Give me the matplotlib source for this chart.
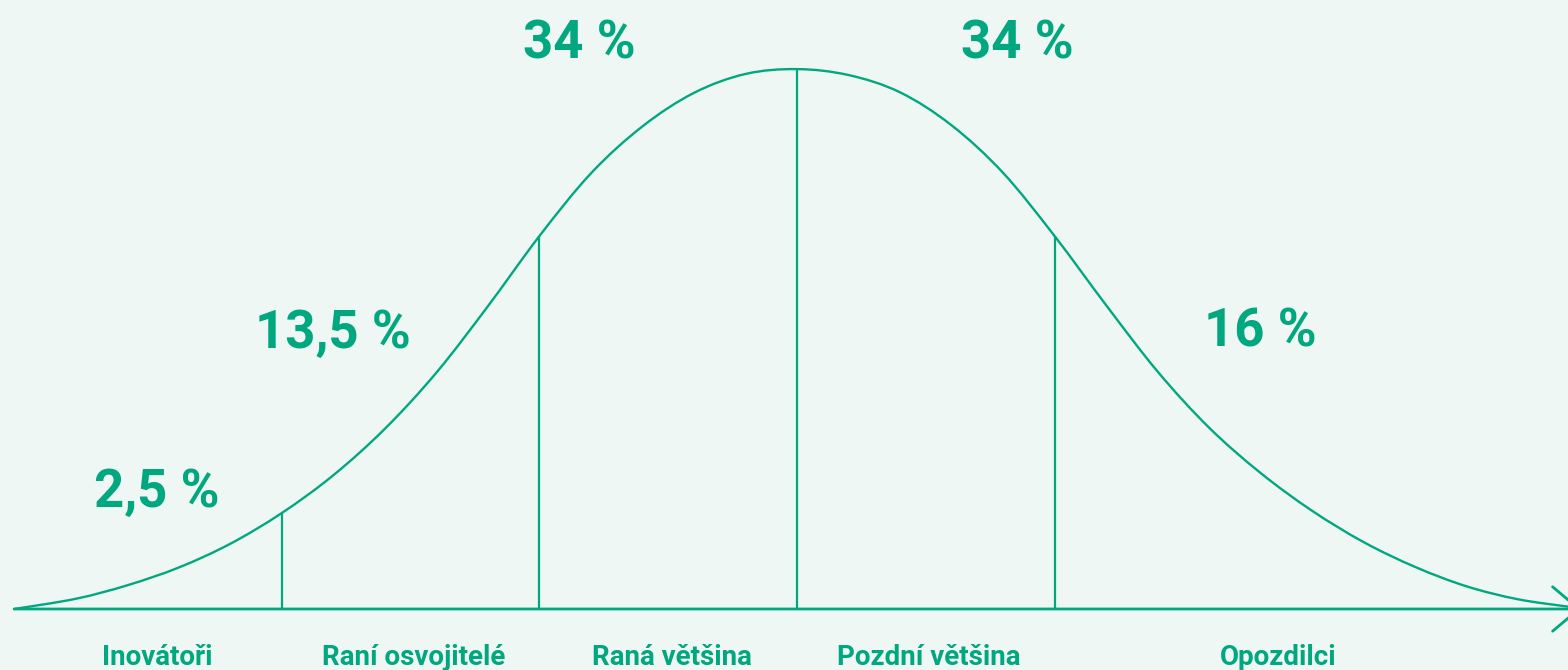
import numpy as np
import matplotlib.pyplot as plt
from matplotlib.path import Path
from matplotlib.patches import PathPatch

plt.rcParams['font.family'] = ['Roboto', 'DejaVu Sans']

green = '#00a77f'
bg = '#eef7f3'

# bell curve: x in standard deviations, height in % of the peak
curve_x = [-3.04, -2.8, -2.6, -2.4, -2.2, -2.0, -1.8, -1.6, -1.4, -1.2, -1.0,
           -0.8, -0.6, -0.4, -0.2, 0.0, 0.2, 0.4, 0.6, 0.8, 1.0,
           1.2, 1.4, 1.6, 1.8, 2.0, 2.2, 2.4, 2.6, 2.8, 3.0]
curve_y = [0.0, 1.9, 4.4, 7.7, 12.1, 17.8, 24.8, 33.4, 43.8, 56.1, 69.1,
           80.7, 89.4, 95.6, 99.1, 100.0, 98.9, 95.7, 89.6, 80.8, 69.1,
           56.3, 44.0, 33.6, 25.2, 18.2, 12.4, 7.8, 4.2, 1.8, 0.4]

boundaries = [-2, -1, 0, 1]
shares = ['2,5 %', '13,5 %', '34 %', '34 %', '16 %']
groups = ['Inovátoři', 'Raní osvojitelé', 'Raná většina', 'Pozdní většina', 'Opozdilci']

# where the texts sit
share_pos = [(-2.487, 18.9), (-1.804, 48.3), (-0.847, 102.0), (0.854, 102.0), (1.798, 48.7)]
group_x = [-2.485, -1.487, -0.487, 0.511, 1.868]
group_y = -10.4

fig = plt.figure(figsize=(15.68, 6.70), dpi=100, facecolor=bg)
ax = fig.add_axes([0, 0, 1, 1])
ax.set_facecolor(bg)
ax.set_xlim(-3.095, 2.994)
ax.set_ylim(-11.3, 112.8)
ax.axis('off')

# smooth line through the read points (Catmull-Rom as cubic Beziers)
pts = np.column_stack([curve_x, curve_y])
ext = np.vstack([pts[0], pts, pts[-1]])
verts = [pts[0]]
codes = [Path.MOVETO]
for i in range(1, len(ext) - 2):
    p0, p1, p2, p3 = ext[i - 1], ext[i], ext[i + 1], ext[i + 2]
    verts += [p1 + (p2 - p0) / 6, p2 - (p3 - p1) / 6, p2]
    codes += [Path.CURVE4] * 3
ax.add_patch(PathPatch(Path(verts, codes), fill=False, edgecolor=green, lw=1.7))

# boundaries between the groups
tops = np.interp(boundaries, curve_x, curve_y)
ax.vlines(boundaries, 0, tops, color=green, lw=1.6)

# baseline with the arrow at the right end
ax.annotate('', xy=(3.045, 0), xytext=(-3.04, 0),
            arrowprops=dict(arrowstyle='->,head_length=0.95,head_width=0.8',
                            color=green, lw=2.0, shrinkA=0, shrinkB=0,
                            mutation_scale=20),
            annotation_clip=False)

for (x, y), s in zip(share_pos, shares):
    ax.text(x, y, s, ha='center', va='baseline', fontsize=38,
            fontweight='bold', color=green)

for x, g in zip(group_x, groups):
    ax.text(x, group_y, g, ha='center', va='baseline', fontsize=20,
            fontweight='bold', color=green)

fig.savefig('out.png', dpi=100, facecolor=bg)
